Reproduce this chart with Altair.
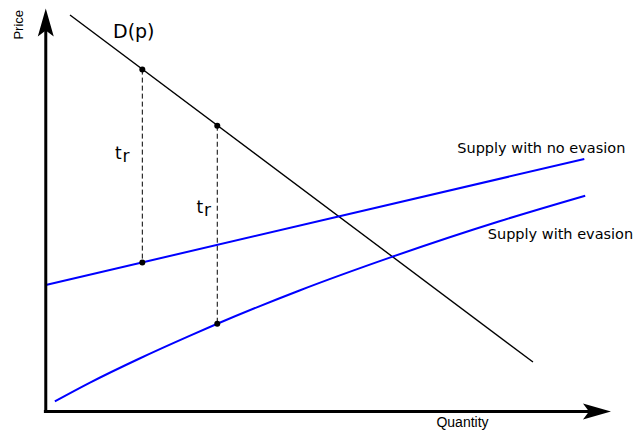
import altair as alt
import pandas as pd

# ---- data (abstract quantity / price units) ----
# demand curve D(p)
demand_q = [4.49, 90.28]
demand_p = [101.7, 12.70]
# supply with no evasion
supply_ne_q = [0.0, 99.79]
supply_ne_p = [32.45, 64.77]
# supply with evasion
supply_e_q = [1.68, 8.11, 17.38, 26.64, 31.78, 47.02, 64.01, 84.08, 99.96]
supply_e_p = [2.6, 7.35, 13.6, 19.4, 22.5, 31.05, 39.6, 48.8, 55.35]
# tax wedges t_r: quantity, price on demand, price on supply
wedge_q = [17.89, 31.78]
wedge_top = [87.7, 73.3]
wedge_bottom = [38.24, 22.5]
# axis extents
axis_q_end = 102.14
axis_p_end = 99.78

# ---- layout ----
W, H = 626, 423
XS = alt.Scale(domain=[-7, 109], nice=False, zero=False)
YS = alt.Scale(domain=[-5, 103.5], nice=False, zero=False)


def X(f="q"):
    return alt.X(f"{f}:Q", scale=XS, axis=None)


def Y(f="p"):
    return alt.Y(f"{f}:Q", scale=YS, axis=None)


demand_df = pd.DataFrame({"q": demand_q, "p": demand_p})
sne_df = pd.DataFrame({"q": supply_ne_q, "p": supply_ne_p})
se_df = pd.DataFrame({"q": supply_e_q, "p": supply_e_p})
wedge_df = pd.DataFrame({"q": wedge_q, "top": wedge_top, "bottom": wedge_bottom})
pts_df = pd.DataFrame({"q": wedge_q + wedge_q, "p": wedge_top + wedge_bottom})

# axes
xaxis_df = pd.DataFrame({"q": [-0.35], "q2": [axis_q_end], "p": [0.0]})
yaxis_df = pd.DataFrame({"q": [0.0], "p": [-0.4], "p2": [axis_p_end]})
xaxis = alt.Chart(xaxis_df).mark_rule(color="black", strokeWidth=3).encode(
    x=X(), x2="q2:Q", y=Y())
yaxis = alt.Chart(yaxis_df).mark_rule(color="black", strokeWidth=3).encode(
    x=X(), y=Y(), y2="p2:Q")
xarrow = alt.Chart(pd.DataFrame({"q": [axis_q_end], "p": [0.0]})).mark_point(
    shape="M1,0L-1,-0.57L-0.57,0L-1,0.57Z", size=784, filled=True,
    color="black", opacity=1).encode(x=X(), y=Y())
yarrow = alt.Chart(pd.DataFrame({"q": [0.0], "p": [axis_p_end]})).mark_point(
    shape="M0,-1L0.57,1L0,0.57L-0.57,1Z", size=784, filled=True,
    color="black", opacity=1).encode(x=X(), y=Y())

demand = alt.Chart(demand_df).mark_line(color="black", strokeWidth=1.4).encode(
    x=X(), y=Y())
sne = alt.Chart(sne_df).mark_line(color="#0000ff", strokeWidth=2).encode(
    x=X(), y=Y())
se = alt.Chart(se_df).mark_line(color="#0000ff", strokeWidth=2,
                                interpolate="monotone").encode(x=X(), y=Y(), order="q:Q")
wedges = alt.Chart(wedge_df).mark_rule(color="black", strokeWidth=1,
                                       strokeDash=[5, 3]).encode(
    x=X(), y=Y("top"), y2="bottom:Q")
pts = alt.Chart(pts_df).mark_point(filled=True, color="black", size=36,
                                   opacity=1).encode(x=X(), y=Y())

# labels
def label(text, q, p, font, size, align="left", baseline="alphabetic", angle=0):
    return alt.Chart(pd.DataFrame({"q": [q], "p": [p], "t": [text]})).mark_text(
        font=font, fontSize=size, align=align, baseline=baseline, angle=angle,
        color="black").encode(x=X(), y=Y(), text="t:N")

labels = [
    label("Price", -4.96, 99.2, "Liberation Sans", 13, align="center",
          baseline="middle", angle=270),
    label("Quantity", 77.22, -4.10, "Liberation Sans", 14, align="center"),
    label("D(p)", 12.46, 95.72, "DejaVu Sans", 19),
    label("t", 12.83, 64.89, "DejaVu Sans", 17),
    label("r", 14.22, 63.92, "DejaVu Sans", 17),
    label("t", 27.91, 51.04, "DejaVu Sans", 17),
    label("r", 29.32, 50.07, "DejaVu Sans", 17),
    label("Supply with no evasion", 76.25, 66.43, "DejaVu Sans", 14.5),
    label("Supply with evasion", 81.9, 44.37, "DejaVu Sans", 14.5),
]

chart = alt.layer(
    wedges, demand, sne, se, pts, xaxis, yaxis, xarrow, yarrow, *labels
).properties(
    width=W, height=H, padding=0, autosize=alt.AutoSizeParams(type="none"),
    background="white",
).configure_view(stroke=None)

chart.save("out.html", embed_options={"renderer": "svg", "actions": False})
